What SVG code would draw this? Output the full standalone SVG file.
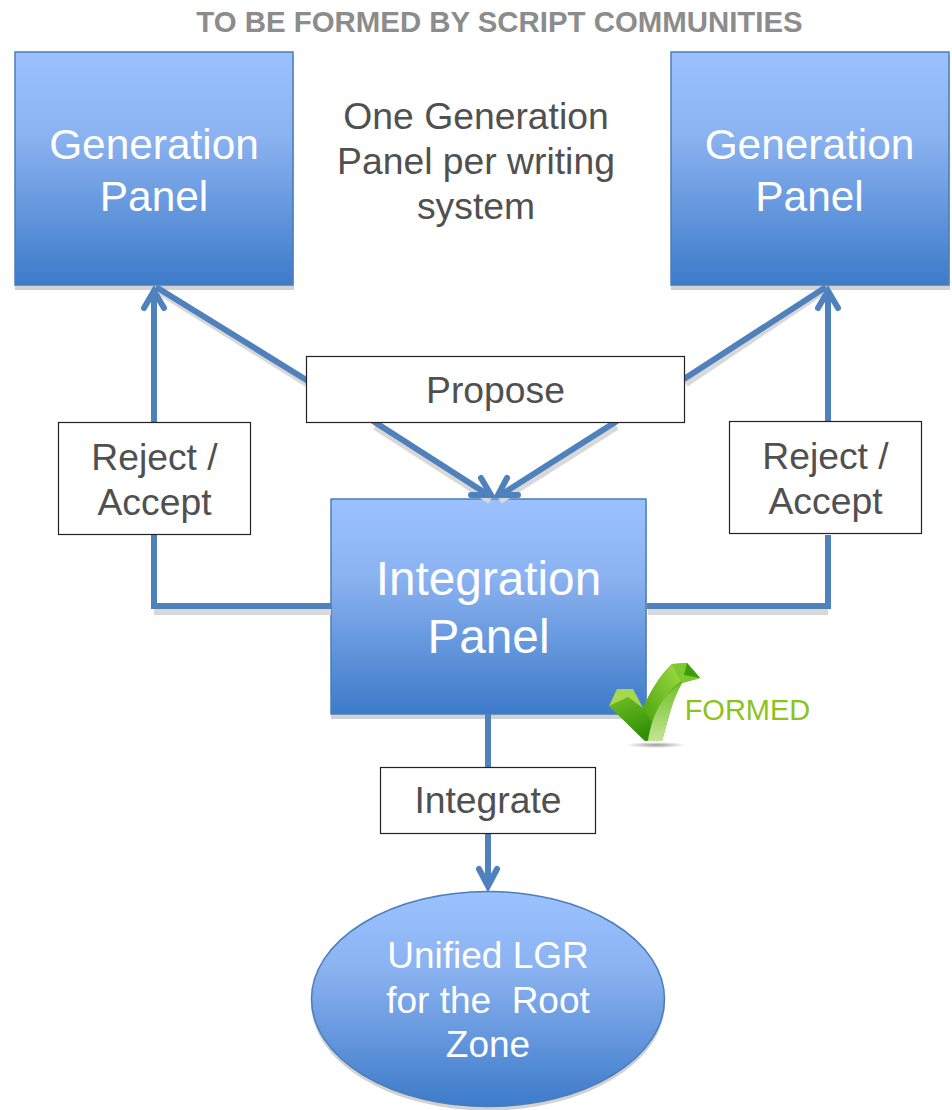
<svg xmlns="http://www.w3.org/2000/svg" width="952" height="1110" viewBox="0 0 952 1110">
<style>
text{font-family:"Liberation Sans",Arial,sans-serif;text-anchor:middle}
.panel{fill:url(#blue);stroke:#4a7ebb;stroke-width:1.5}
.shadow{fill:#d2d2d2}
.white{fill:#fff}
.dark{fill:#505050;font-size:37.300px}
.label{fill:#fff;stroke:#222;stroke-width:1.2}
.line{fill:none;stroke:#4f81bd;stroke-width:6}
.head{fill:none;stroke:#4f81bd;stroke-width:6;stroke-linecap:round;stroke-linejoin:miter}
.lineshadow{fill:none;stroke:#d8d8d8;stroke-width:6}
</style>
<defs>
<linearGradient id="blue" x1="0" y1="0" x2="0" y2="1">
<stop offset="0" stop-color="#9bc2ff"/>
<stop offset="0.35" stop-color="#8cb3f1"/>
<stop offset="1" stop-color="#3d7bc9"/>
</linearGradient>
<linearGradient id="chkFront" x1="0" y1="0" x2="0.4" y2="1">
<stop offset="0" stop-color="#7cc52c"/>
<stop offset="1" stop-color="#2f8f06"/>
</linearGradient>
<linearGradient id="chkSide" x1="0" y1="0" x2="0" y2="1">
<stop offset="0" stop-color="#72c02e"/>
<stop offset="1" stop-color="#c3e592"/>
</linearGradient>
<linearGradient id="chkLong" x1="1" y1="0" x2="0" y2="1">
<stop offset="0" stop-color="#9fdc45"/>
<stop offset="1" stop-color="#4aa30b"/>
</linearGradient>
<radialGradient id="chkshadow"><stop offset="0" stop-color="#9a9a9a"/><stop offset="1" stop-color="#9a9a9a" stop-opacity="0"/></radialGradient>
</defs>
<rect width="952" height="1110" fill="#fff"/>
<text id="title" x="499.500" y="32" font-size="29.400" font-weight="700" fill="#8c8c8c">TO BE FORMED BY SCRIPT COMMUNITIES</text>
<g id="note"><text class="dark" x="476" y="129">One Generation</text><text class="dark" x="476" y="174">Panel per writing</text><text class="dark" x="476" y="219">system</text></g>

<g id="gen-panel-left">
<rect class="shadow" x="15" y="56" width="279" height="234"/>
<rect class="panel" x="15" y="52" width="278" height="233"/>
<text class="white" x="154" y="159" font-size="42.400">Generation</text>
<text class="white" x="154" y="211" font-size="42.400">Panel</text>
</g>
<g id="gen-panel-right">
<rect class="shadow" x="671" y="56" width="279" height="234"/>
<rect class="panel" x="671" y="52" width="278" height="233"/>
<text class="white" x="809.500" y="159" font-size="42.400">Generation</text>
<text class="white" x="809.500" y="211" font-size="42.400">Panel</text>
</g>
<g id="integration-panel">
<rect class="shadow" x="331" y="503" width="316" height="216"/>
<rect class="panel" x="331" y="499" width="315" height="215"/>
<text class="white" x="488.500" y="595" font-size="47.700">Integration</text>
<text class="white" x="488.500" y="653" font-size="47.700">Panel</text>
</g>
<g id="unified-lgr">
<ellipse class="shadow" cx="488" cy="1003" rx="177" ry="107.500"/>
<ellipse class="panel" cx="488" cy="999" rx="176.500" ry="107.500"/>
<text class="white" x="488" y="968" font-size="37">Unified LGR</text>
<text class="white" x="488" y="1013" font-size="37" xml:space="preserve">for the  Root</text>
<text class="white" x="488" y="1057" font-size="37">Zone</text>
</g>

<g id="connector-shadows">
<path class="lineshadow" d="M154 612H331M828 612H648M159 292L310 386M375 427L490 501M617 427L500 501M823 292L686 384"/>
</g>
<g id="connectors">
<path class="line" d="M154 291V422M154 535V606H331"/>
<path class="line" d="M828 291V422M828 535V606H647"/>
<path class="line" d="M156 287L308 381"/>
<path class="line" d="M826 287L684 379"/>
<path class="line" d="M373 421L490 496"/>
<path class="line" d="M617 421L499 496"/>
<path class="line" d="M488 714V767M488 833V886"/>
<path class="head" d="M144 308L154 291L164 308"/>
<path class="head" d="M818 308L828 291L838 308"/>
<path class="head" d="M471 495H491L481 478"/>
<path class="head" d="M518 495H498L507 478"/>
<path class="head" d="M479 869L488 886L497 869"/>
</g>

<g id="label-propose">
<rect class="label" x="306.500" y="356.500" width="378" height="66"/>
<text class="dark" x="495.500" y="403">Propose</text>
</g>
<g id="label-reject-left">
<rect class="label" x="58.500" y="422.500" width="192" height="112"/>
<text class="dark" x="154.500" y="470">Reject /</text>
<text class="dark" x="154.500" y="515">Accept</text>
</g>
<g id="label-reject-right">
<rect class="label" x="729.500" y="421.500" width="192" height="112"/>
<text class="dark" x="825.500" y="469">Reject /</text>
<text class="dark" x="825.500" y="514">Accept</text>
</g>
<g id="label-integrate">
<rect class="label" x="380.500" y="767.500" width="215" height="66"/>
<text class="dark" x="488" y="813">Integrate</text>
</g>

<g id="formed-check">
<ellipse cx="656" cy="745" rx="30" ry="3" fill="url(#chkshadow)"/>
<path d="M609 706L617 689L633 689L643 708C650 692 660 675 672 664L687 663L700 678L682 683C672 700 668 720 662 741L645 741Z" fill="#5fb51c"/>
<path d="M609 706L628 697L643 708L662 690L650 740L645 741Z" fill="url(#chkFront)"/>
<path d="M609 706L617 689L633 689L643 708L628 697Z" fill="#a5d84f"/>
<path d="M643 708C650 692 660 675 672 664L681 681C668 690 660 705 653 724Z" fill="url(#chkLong)"/>
<path d="M682 683C672 700 668 720 662 741L648 741C652 715 662 695 682 683Z" fill="url(#chkSide)"/>
<path d="M672 664L687 663L700 678L682 683Z" fill="#7ec92f"/>
<path d="M687 663L700 678L684 675Z" fill="#3e9c0d"/>
<text x="747.500" y="720" font-size="29" fill="#8cc31e">FORMED</text>
</g>
</svg>
